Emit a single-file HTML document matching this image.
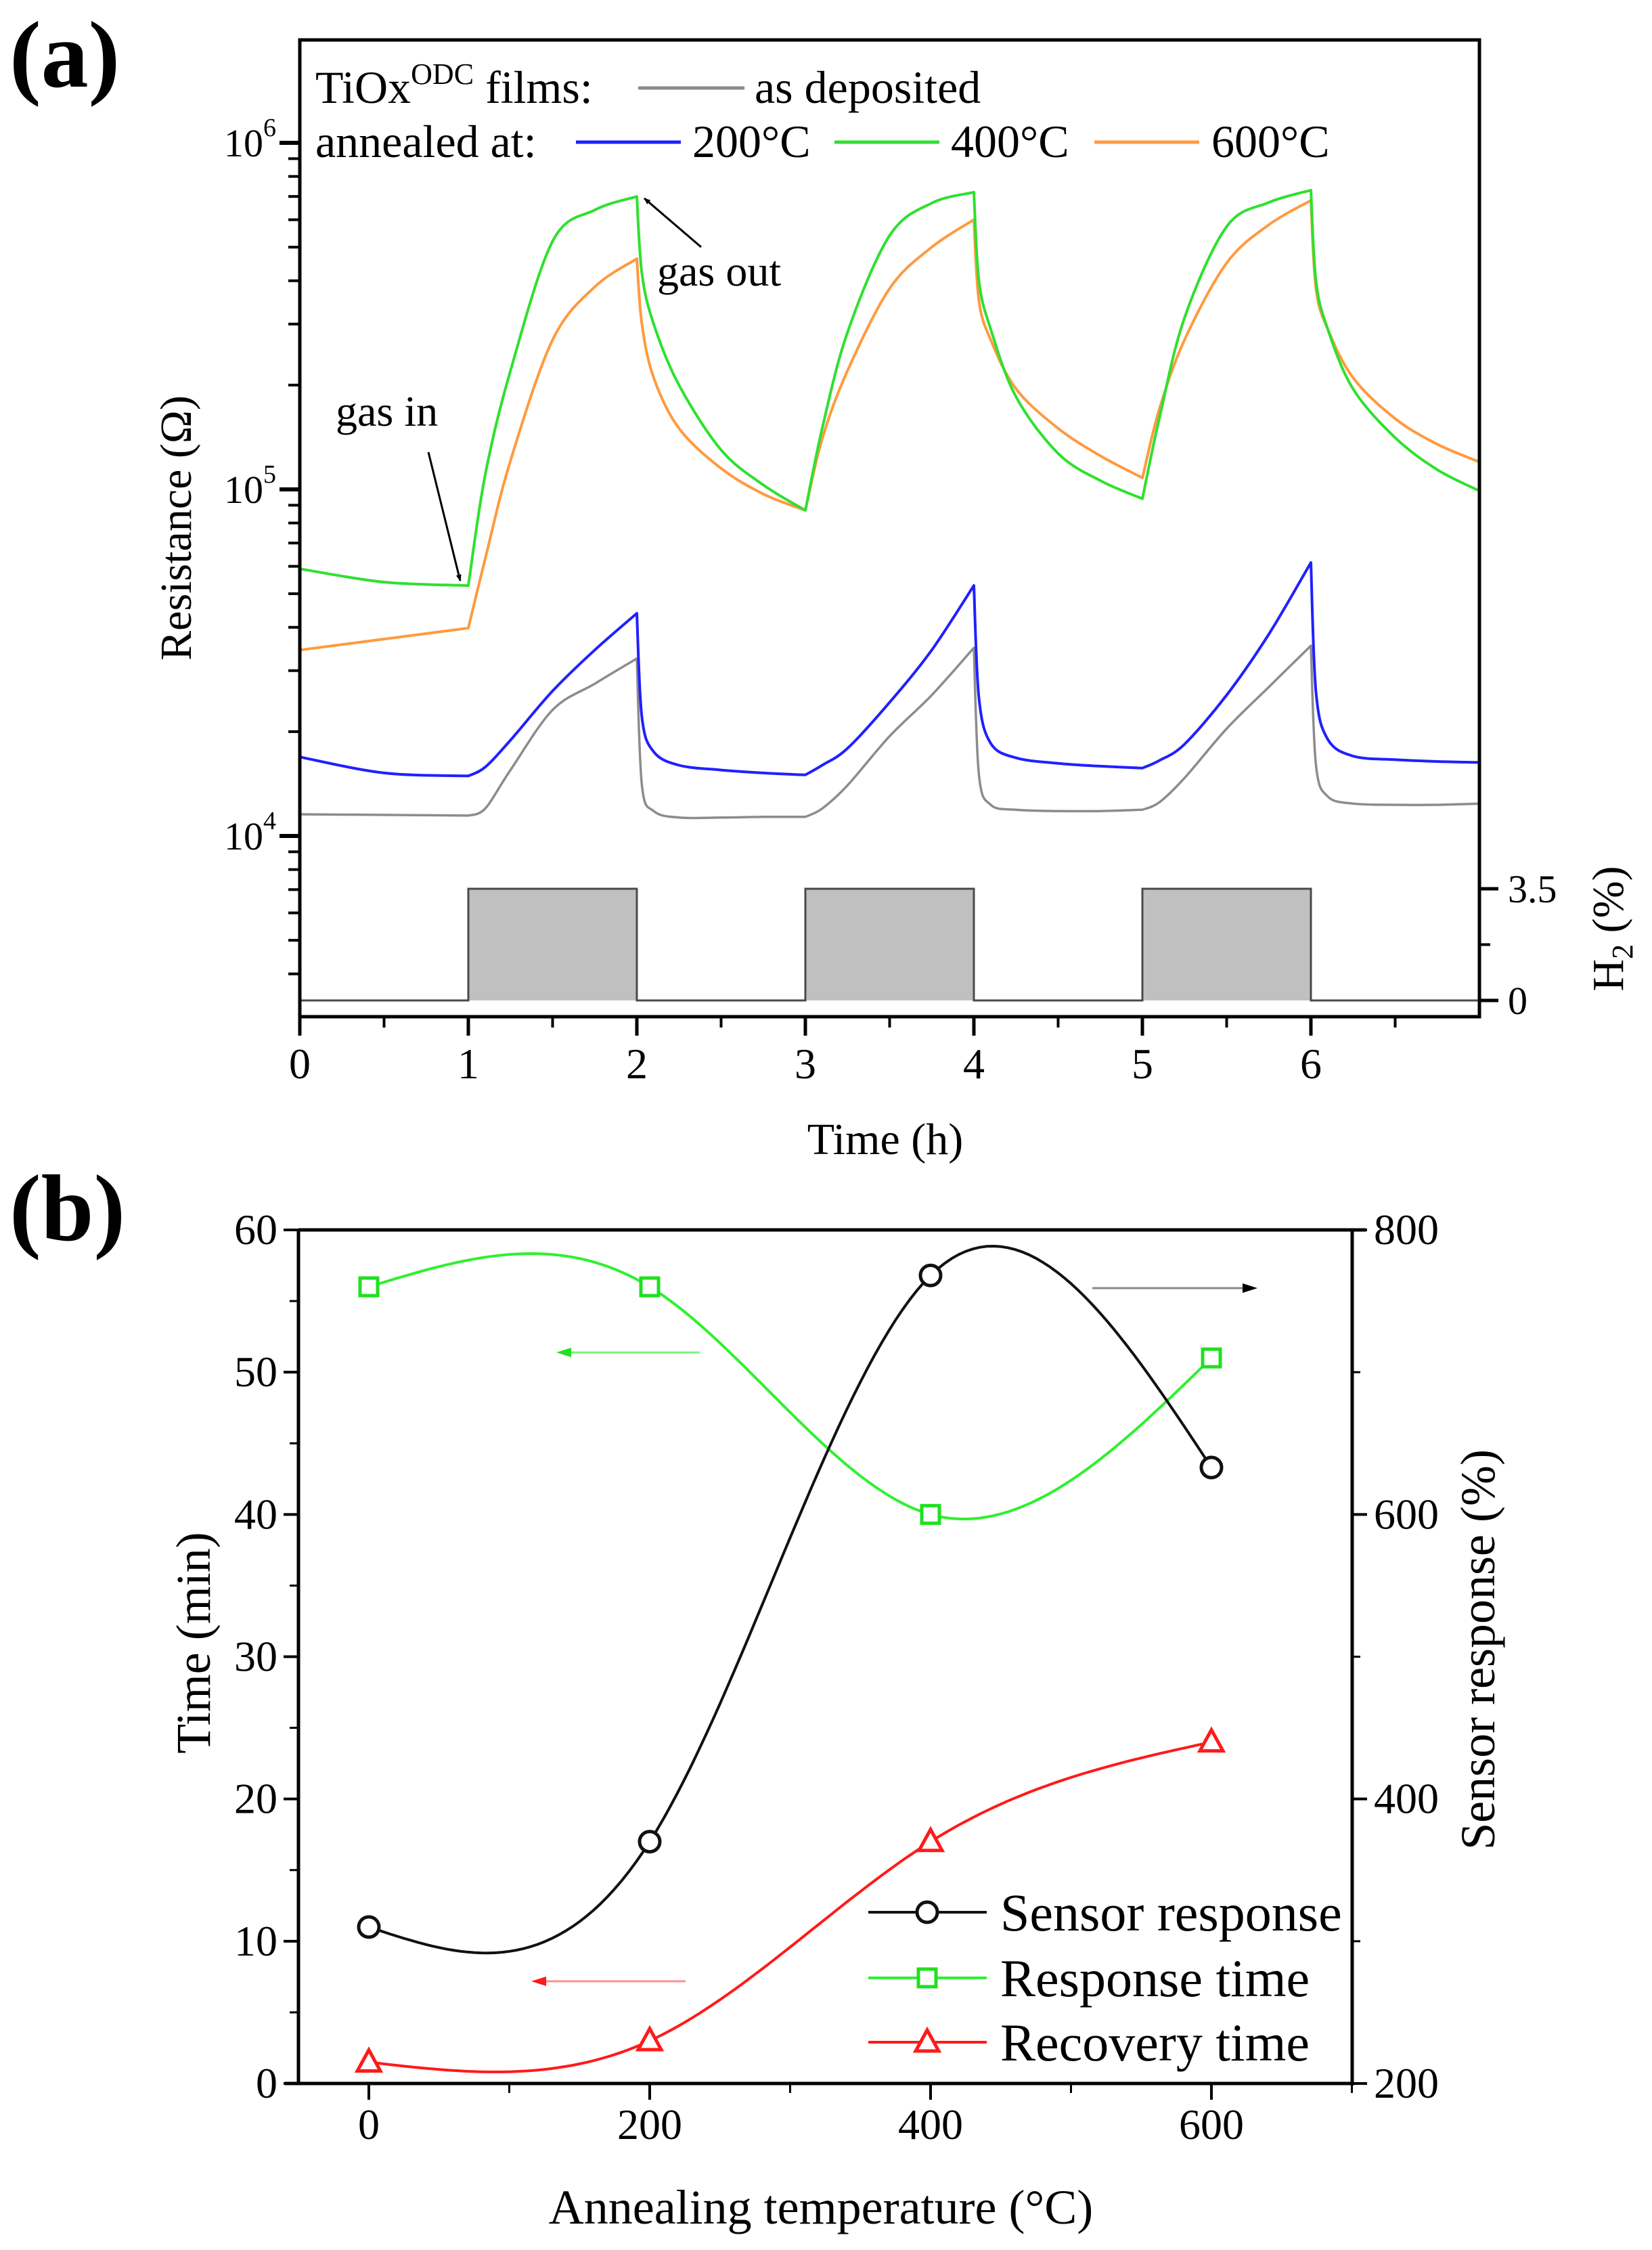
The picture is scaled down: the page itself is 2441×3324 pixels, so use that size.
<!DOCTYPE html>
<html><head><meta charset="utf-8"><style>
html,body{margin:0;padding:0;background:#fff;}
svg{display:block;font-family:"Liberation Serif",serif;}
</style></head><body>
<svg id="fig" width="2441" height="3324" viewBox="0 0 2441 3324" xmlns="http://www.w3.org/2000/svg">
<defs>
<marker id="ahK" markerWidth="10" markerHeight="10" refX="9" refY="5" orient="auto" markerUnits="userSpaceOnUse" viewBox="0 0 10 10"><path d="M0,1 L10,5 L0,9 z" fill="#000"/></marker>
</defs>
<g id="pa"></g>
<g id="pb"></g>
</svg>
<script>
// ---------- Panel (a) data ----------
const timesA = [0,0.5,1,1.1,1.25,1.5,1.75,2,2.03,2.1,2.25,2.5,2.75,3,3.1,3.25,3.5,3.75,4,4.03,4.1,4.25,4.5,4.75,5,5.1,5.25,5.5,5.75,6,6.03,6.1,6.25,6.5,6.75,7];
const grayVals = [11550,11500,11450,12000,15500,23100,27500,32500,14000,11800,11300,11300,11350,11350,12000,14000,19400,25500,34900,15000,12300,11900,11800,11800,11900,12500,14700,20400,26900,35400,16000,13000,12400,12300,12300,12400];
const blueVals = [16900,15200,14900,15800,18900,26200,34400,43900,22000,17500,16000,15500,15200,15000,16000,17900,24300,34400,52800,25000,18500,16800,16200,15900,15700,16500,18400,25500,38200,61500,26000,19000,17000,16600,16400,16300];
const greenVals = [59000,54000,52800,110000,220000,520000,640000,700000,420000,300000,200000,130000,103000,87000,150000,284000,540000,670000,720000,400000,290000,185000,127000,106000,94000,160000,313000,573000,673000,730000,400000,290000,195000,141000,114000,99000];
const orangeVals = [34400,37000,39800,63000,121000,270000,384000,463000,300000,210000,150000,115000,97000,87000,140000,220000,380000,500000,600000,350000,270000,195000,150000,125000,108000,170000,270000,450000,580000,682000,380000,290000,210000,160000,135000,120000];
const h2Times = [0,1,1,2,2,3,3,4,4,5,5,6,6,7];
const h2Vals = [0,0,3.5,3.5,0,0,3.5,3.5,0,0,3.5,3.5,0,0];
const xTicksA = [0,1,2,3,4,5,6];
const yDecadesA = [4,5,6];
const kinkTimes = [1,2,3,4,5,6];

// ---------- Panel (b) data ----------
const tempsB = [0,200,400,600];
const sensorResp = [310,370,768,633];
const respTime = [56,56,40,51];
const recTime = [1.5,3,17,24];
const xTicksB = [0,200,400,600];
const yTicksLeft = [0,10,20,30,40,50,60];
const yTicksRight = [200,400,600,800];

const NS="http://www.w3.org/2000/svg";
function mk(parent,tag,attrs,text){const e=document.createElementNS(NS,tag);for(const k in attrs)e.setAttribute(k,attrs[k]);if(text!==undefined)e.textContent=text;parent.appendChild(e);return e;}

const pa=document.getElementById('pa');
const AL=443,AR=2186,AT=59,AB=1502;
const ax=t=>AL+t*(AR-AL)/7;
const ay=v=>1235-(Math.log10(v)-4)*512;
const hy=v=>1478-v*(1478-1313)/3.5;

let d='';h2Times.forEach((t,i)=>{d+=(i?'L':'M')+ax(t).toFixed(1)+','+hy(h2Vals[i]).toFixed(1);});
const h2fill=mk(pa,'path',{d:d+'Z',fill:'#c0c0c0',stroke:'none'});


const h2line=mk(pa,'path',{d:d,fill:'none',stroke:'#4a4a4a','stroke-width':3});



function series(parent,vals,color,name,w){
  const pts=timesA.map((t,i)=>[ax(t),ay(vals[i])]);
  const segs=[];let cur=[0];
  for(let i=1;i<pts.length;i++){cur.push(i);if(kinkTimes.indexOf(timesA[i])>=0&&i<pts.length-1){segs.push(cur);cur=[i];}}
  segs.push(cur);
  let p='M'+pts[0][0].toFixed(1)+','+pts[0][1].toFixed(1);
  segs.forEach(s=>{
    for(let k=0;k<s.length-1;k++){
      const p0=pts[s[Math.max(k-1,0)]],p1=pts[s[k]],p2=pts[s[k+1]],p3=pts[s[Math.min(k+2,s.length-1)]];
      const c1=[p1[0]+(p2[0]-p0[0])/6,p1[1]+(p2[1]-p0[1])/6];
      const c2=[p2[0]-(p3[0]-p1[0])/6,p2[1]-(p3[1]-p1[1])/6];
      p+='C'+c1[0].toFixed(1)+','+c1[1].toFixed(1)+' '+c2[0].toFixed(1)+','+c2[1].toFixed(1)+' '+p2[0].toFixed(1)+','+p2[1].toFixed(1);
    }
  });
  const e=mk(parent,'path',{d:p,fill:'none',stroke:color,'stroke-width':w,'stroke-linejoin':'round'});
  
  
}
series(pa,grayVals,'#8c8c8c','series-as-deposited',3.5);
series(pa,blueVals,'#2020ff','series-200c',4);
series(pa,orangeVals,'#ff9a40','series-600c',4);
series(pa,greenVals,'#30e030','series-400c',4);

const fa=mk(pa,'rect',{x:AL,y:AT,width:AR-AL,height:AB-AT,fill:'none',stroke:'#000','stroke-width':5});


xTicksA.forEach(t=>{
  mk(pa,'line',{x1:ax(t),y1:AB,x2:ax(t),y2:AB+28,stroke:'#000','stroke-width':5});
  const l=mk(pa,'text',{x:ax(t),y:1593,'font-size':64,'text-anchor':'middle'},String(t));
  
  
});
for(let t=0.5;t<7;t+=1) mk(pa,'line',{x1:ax(t),y1:AB,x2:ax(t),y2:AB+16,stroke:'#000','stroke-width':4});
for(let dec=3;dec<=6;dec++){
  for(let m=1;m<10;m++){
    const v=m*Math.pow(10,dec);const y=ay(v);
    if(y<AT||y>AB)continue;
    const major=(m===1);
    mk(pa,'line',{x1:AL-(major?30:17),y1:y,x2:AL,y2:y,stroke:'#000','stroke-width':major?6:4});
  }
}
yDecadesA.forEach(dd=>{
  const t=mk(pa,'text',{x:408,y:ay(Math.pow(10,dd))+20,'font-size':58,'text-anchor':'end'});
  
  
  mk(t,'tspan',{},'10');
  mk(t,'tspan',{dy:-30,'font-size':38},String(dd));
});
[0,3.5].forEach(v=>{
  mk(pa,'line',{x1:AR,y1:hy(v),x2:AR+28,y2:hy(v),stroke:'#000','stroke-width':5});
  const l=mk(pa,'text',{x:2228,y:hy(v)+20,'font-size':58},String(v));
  
  
});
mk(pa,'line',{x1:AR,y1:hy(1.75),x2:AR+16,y2:hy(1.75),stroke:'#000','stroke-width':4});
</script>
<script>
(function(){
const pa=document.getElementById('pa');
const NS="http://www.w3.org/2000/svg";
function mk(parent,tag,attrs,text){const e=document.createElementNS(NS,tag);for(const k in attrs)e.setAttribute(k,attrs[k]);if(text!==undefined)e.textContent=text;parent.appendChild(e);return e;}
let e;
e=mk(pa,'text',{x:14,y:128,'font-size':140,'font-weight':'bold'},'(a)');

e=mk(pa,'text',{x:1308,y:1705,'font-size':66,'text-anchor':'middle'},'Time (h)');

e=mk(pa,'text',{x:0,y:0,'font-size':66,'text-anchor':'middle',transform:'translate(282,780) rotate(-90)'},'Resistance (Ω)');

e=mk(pa,'text',{x:0,y:0,'font-size':66,'text-anchor':'middle',transform:'translate(2398,1372) rotate(-90)'});

mk(e,'tspan',{},'H');mk(e,'tspan',{dy:14,'font-size':44},'2');mk(e,'tspan',{dy:-14},' (%)');
e=mk(pa,'text',{x:466,y:152,'font-size':68});

mk(e,'tspan',{},'TiOx');mk(e,'tspan',{dy:-28,'font-size':44},'ODC');mk(e,'tspan',{dy:28},' films:');
e=mk(pa,'text',{x:466,y:232,'font-size':68},'annealed at:');

const leg=[[943,1100,130,'#8c8c8c',1115,152,'as deposited','legend-as-deposited'],
[851,1006,210,'#2020ff',1023,232,'200°C','legend-200c'],
[1233,1388,210,'#30e030',1405,232,'400°C','legend-400c'],
[1617,1772,210,'#ff9a40',1790,232,'600°C','legend-600c']];
leg.forEach(l=>{
  const g=mk(pa,'g',{});
  
  mk(g,'line',{x1:l[0],y1:l[2],x2:l[1],y2:l[2],stroke:l[3],'stroke-width':5});
  mk(g,'text',{x:l[4],y:l[5],'font-size':68},l[6]);
});
e=mk(pa,'text',{x:496,y:629,'font-size':64},'gas in');

e=mk(pa,'line',{x1:633,y1:668,x2:680,y2:858,stroke:'#000','stroke-width':3,'marker-end':'url(#ahK)'});

e=mk(pa,'text',{x:971,y:422,'font-size':64},'gas out');

e=mk(pa,'line',{x1:1036,y1:365,x2:952,y2:293,stroke:'#000','stroke-width':3,'marker-end':'url(#ahK)'});

})();
</script>
<script>
(function(){
const pb=document.getElementById('pb');
const NS="http://www.w3.org/2000/svg";
function mk(parent,tag,attrs,text){const e=document.createElementNS(NS,tag);for(const k in attrs)e.setAttribute(k,attrs[k]);if(text!==undefined)e.textContent=text;parent.appendChild(e);return e;}
const BL=441,BR=1998,BT=1817,BB=3078;
const bx=t=>545+t*(1790-545)/600;
const byL=v=>BB-v*(BB-BT)/60;
const byR=v=>BB-(v-200)*(BB-BT)/600;
function spline(xs,ys){
  const n=xs.length,h=[],al=[],l=[1],mu=[0],z=[0],c=new Array(n).fill(0),b=[],dd=[];
  for(let i=0;i<n-1;i++)h.push(xs[i+1]-xs[i]);
  for(let i=1;i<n-1;i++)al[i]=3/h[i]*(ys[i+1]-ys[i])-3/h[i-1]*(ys[i]-ys[i-1]);
  for(let i=1;i<n-1;i++){l[i]=2*(xs[i+1]-xs[i-1])-h[i-1]*mu[i-1];mu[i]=h[i]/l[i];z[i]=(al[i]-h[i-1]*z[i-1])/l[i];}
  l[n-1]=1;z[n-1]=0;
  for(let j=n-2;j>=0;j--){c[j]=z[j]-mu[j]*c[j+1];b[j]=(ys[j+1]-ys[j])/h[j]-h[j]*(c[j+1]+2*c[j])/3;dd[j]=(c[j+1]-c[j])/(3*h[j]);}
  return x=>{let i=0;while(i<n-2&&x>xs[i+1])i++;const dx=x-xs[i];return ys[i]+b[i]*dx+c[i]*dx*dx+dd[i]*dx*dx*dx;};
}
function curve(vals,yf,color,name){
  const f=spline(tempsB,vals);let p='';
  for(let t=tempsB[0];t<=tempsB[tempsB.length-1]+0.01;t+=5){p+=(p?'L':'M')+bx(t).toFixed(1)+','+yf(f(t)).toFixed(1);}
  const e=mk(pb,'path',{d:p,fill:'none',stroke:color,'stroke-width':4});
  
  
}
curve(recTime,byL,'#ff1a1a','recovery-time-curve');
curve(respTime,byL,'#30f030','response-time-curve');
curve(sensorResp,byR,'#111','sensor-response-curve');
function marker(g,type,x,y,color){
  if(type==='c')mk(g,'ellipse',{cx:x,cy:y,rx:15,ry:15,fill:'#fff',stroke:color,'stroke-width':5});
  else if(type==='s')mk(g,'rect',{x:x-13,y:y-13,width:26,height:26,fill:'#fff',stroke:color,'stroke-width':5});
  else mk(g,'path',{d:`M${x},${y-18}L${x+17},${y+13}L${x-17},${y+13}Z`,fill:'#fff',stroke:color,'stroke-width':5});
}
tempsB.forEach((t,i)=>{
  let g=mk(pb,'g',{});
  
  
  marker(g,'t',bx(t),byL(recTime[i]),'#ff1a1a');
  g=mk(pb,'g',{});
  
  
  marker(g,'s',bx(t),byL(respTime[i]),'#20e020');
  g=mk(pb,'g',{});
  
  
  marker(g,'c',bx(t),byR(sensorResp[i]),'#111');
});
mk(pb,'line',{x1:BL,y1:BT,x2:BL,y2:BB,stroke:'#000','stroke-width':5});
mk(pb,'line',{x1:BL-20,y1:BB,x2:BR,y2:BB,stroke:'#000','stroke-width':5});
mk(pb,'line',{x1:BR,y1:BT,x2:BR,y2:BB+3,stroke:'#000','stroke-width':5});
mk(pb,'line',{x1:BL,y1:BT,x2:BR+20,y2:BT,stroke:'#000','stroke-width':5});
xTicksB.forEach(t=>{
  mk(pb,'line',{x1:bx(t),y1:BB,x2:bx(t),y2:BB+24,stroke:'#000','stroke-width':4});
  const l=mk(pb,'text',{x:bx(t),y:3160,'font-size':64,'text-anchor':'middle'},String(t));
  
  
});
[100,300,500,700].forEach(t=>mk(pb,'line',{x1:bx(t),y1:BB,x2:bx(t),y2:BB+14,stroke:'#000','stroke-width':3}));
yTicksLeft.forEach(v=>{
  mk(pb,'line',{x1:BL-22,y1:byL(v),x2:BL,y2:byL(v),stroke:'#000','stroke-width':4});
  const l=mk(pb,'text',{x:410,y:byL(v)+21,'font-size':64,'text-anchor':'end'},String(v));
  
  
});
for(let v=5;v<60;v+=10)mk(pb,'line',{x1:BL-13,y1:byL(v),x2:BL,y2:byL(v),stroke:'#000','stroke-width':3});
yTicksRight.forEach(v=>{
  mk(pb,'line',{x1:BR,y1:byR(v),x2:BR+22,y2:byR(v),stroke:'#000','stroke-width':4});
  const l=mk(pb,'text',{x:2030,y:byR(v)+21,'font-size':64},String(v));
  
  
});
[300,500,700].forEach(v=>mk(pb,'line',{x1:BR,y1:byR(v),x2:BR+12,y2:byR(v),stroke:'#000','stroke-width':3}));
let e;
e=mk(pb,'text',{x:14,y:1832,'font-size':140,'font-weight':'bold'},'(b)');

e=mk(pb,'text',{x:1213,y:3285,'font-size':72,'text-anchor':'middle'},'Annealing temperature (°C)');

e=mk(pb,'text',{x:0,y:0,'font-size':72,'text-anchor':'middle',transform:'translate(310,2427) rotate(-90)'},'Time (min)');

e=mk(pb,'text',{x:0,y:0,'font-size':72,'text-anchor':'middle',transform:'translate(2208,2437) rotate(-90)'},'Sensor response (%)');

e=mk(pb,'g',{});
mk(e,'line',{x1:1614,y1:1903,x2:1840,y2:1903,stroke:'#888','stroke-width':3});
mk(e,'path',{d:'M1858,1903L1836,1896L1836,1910Z',fill:'#000'});
e=mk(pb,'g',{});
mk(e,'line',{x1:1034,y1:1998,x2:840,y2:1998,stroke:'#80f080','stroke-width':3});
mk(e,'path',{d:'M822,1998L844,1991L844,2005Z',fill:'#20e020'});
e=mk(pb,'g',{});
mk(e,'line',{x1:1013,y1:2927,x2:803,y2:2927,stroke:'#ff9090','stroke-width':3});
mk(e,'path',{d:'M785,2927L807,2920L807,2934Z',fill:'#ff1a1a'});
const leg=[[2825,'c','#111','Sensor response','legend-sensor-response'],[2922,'s','#20e020','Response time','legend-response-time'],[3017,'t','#ff1a1a','Recovery time','legend-recovery-time']];
const lcol={c:'#111',s:'#30f030',t:'#ff1a1a'};
leg.forEach(r=>{
  const g=mk(pb,'g',{});
  
  
  mk(g,'line',{x1:1283,y1:r[0],x2:1458,y2:r[0],stroke:lcol[r[1]],'stroke-width':4});
  marker(g,r[1],1370,r[0],r[2]);
  mk(g,'text',{x:1478,y:r[0]+27,'font-size':78},r[3]);
});
})();
</script>
</body></html>
